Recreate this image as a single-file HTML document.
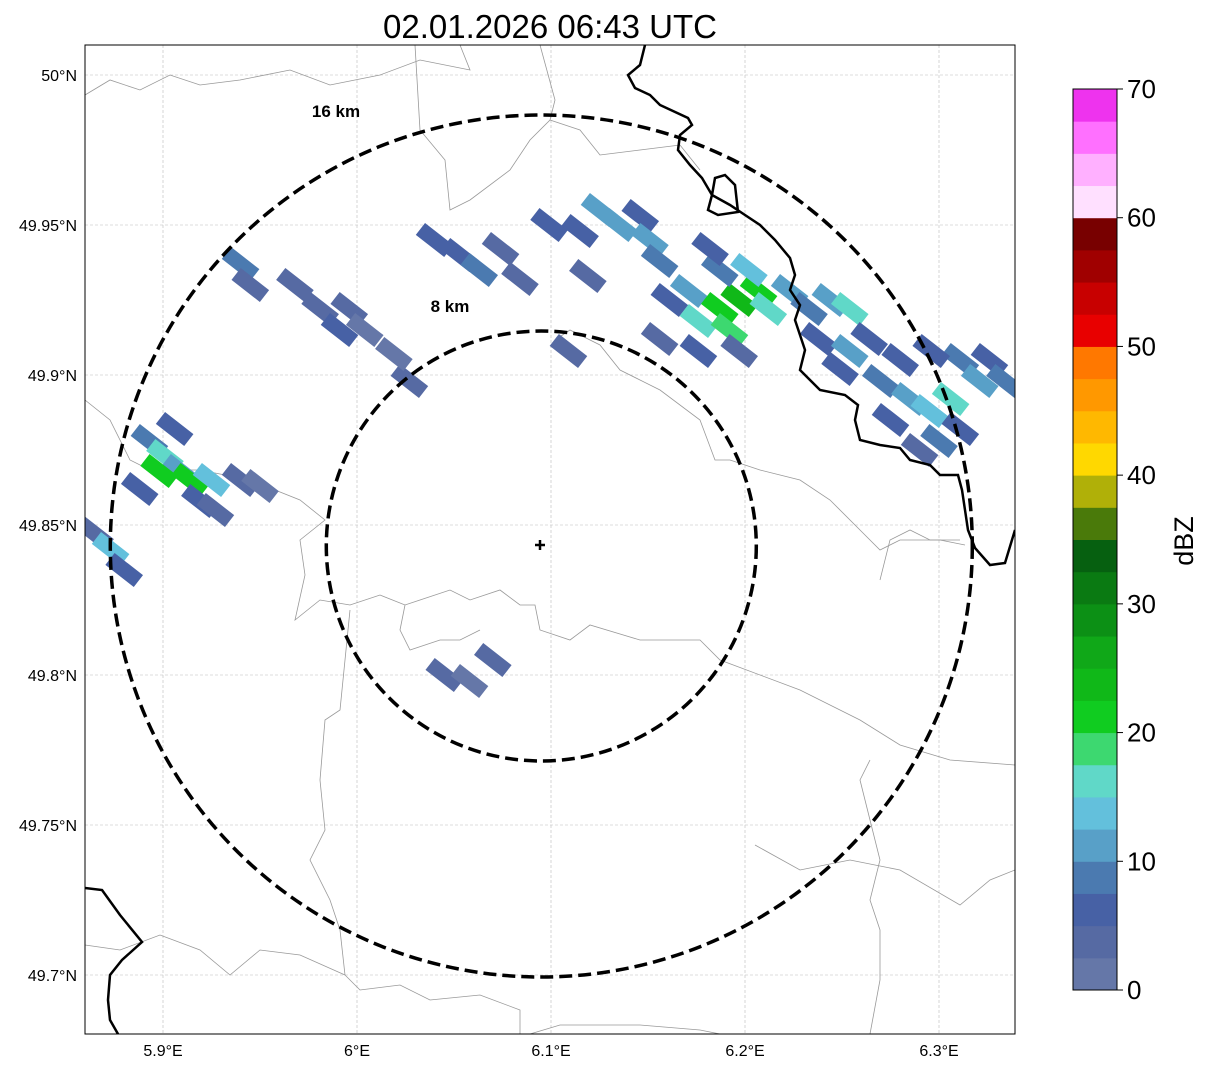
<!DOCTYPE html>
<html><head><meta charset="utf-8"><style>
body{margin:0;background:#fff;font-family:"Liberation Sans","DejaVu Sans",sans-serif}
svg text{font-family:"Liberation Sans","DejaVu Sans",sans-serif}
</style></head><body>
<svg id="chart" width="1207" height="1069" xmlns="http://www.w3.org/2000/svg">
<text x="550" y="38" font-size="33" text-anchor="middle">02.01.2026 06:43 UTC</text>
<defs><clipPath id="clip"><rect x="85" y="45" width="930" height="989"/></clipPath></defs>
<g id="grid"></g>
<g clip-path="url(#clip)">
<g fill="none" stroke="#999" stroke-width="0.8">
<polyline points="85,95 110,80 140,90 170,75 200,85 240,80 290,70 330,85 380,75 420,60 470,70 460,45"/>
<polyline points="85,400 110,420 130,460 150,470 200,470 250,480 275,490 300,500 325,520 300,540 305,575 295,620 320,600 350,605 380,595 405,605 420,600 450,590 470,600 500,590 520,605 535,605 540,630 570,640 590,625 640,640 700,640 720,660 800,690 860,720 900,745 950,760 1015,765"/>
<polyline points="415,45 420,130 445,160 450,210 470,200 510,170 530,140 550,120 555,100 540,45"/>
<polyline points="550,120 580,130 600,155 640,150 680,145 700,170"/>
<polyline points="405,605 400,630 410,650 440,640 460,640 480,630"/>
<polyline points="350,610 345,660 340,710 325,720 320,780 325,830 310,860 330,900 340,930 345,975 360,990 400,985 430,1000 480,995 520,1010 520,1034"/>
<polyline points="85,945 120,950 160,935 200,950 230,975 260,950 300,955 345,975"/>
<polyline points="530,1034 560,1025 640,1025 700,1030 720,1034"/>
<polyline points="555,340 570,330 600,345 620,370 640,380 660,390 700,420 715,460 730,460 760,470 800,480 830,500 860,530 880,550 900,540 940,540 965,545"/>
<polyline points="755,845 800,870 850,860 900,870 960,905 990,880 1015,870"/>
<polyline points="870,1034 880,980 880,930 870,900 880,860 870,820 860,780 870,760"/>
<polyline points="880,580 890,540 910,530 930,540 960,540"/>
</g>
<g id="echoes"></g>
<g fill="none" stroke="#000" stroke-width="2.5">
<polyline points="645,45 640,65 628,75 635,88 650,95 660,105 688,118 692,125 680,135 678,150 690,165 702,178 712,195 708,210 718,215 738,212 735,185 725,175 715,178 712,195"/>
<polyline points="712,195 730,205 745,215 760,225 775,240 790,258 795,275 790,290 800,305 795,320 800,335 805,350 800,370 820,390 845,395 858,405 855,420 860,440 880,445 900,448 910,460 930,465 940,475 958,475 962,490 965,510 968,530 975,548 990,565 1005,563 1015,530"/>
<polyline points="85,888 102,890 120,915 142,942 122,960 110,975 108,1000 110,1020 118,1034"/>
</g>
<g id="rings"></g>
</g>
<rect x="85" y="45" width="930" height="989" fill="none" stroke="#000" stroke-width="1"/>
<text x="336" y="117" font-size="17" font-weight="bold" text-anchor="middle">16 km</text>
<text x="450" y="312" font-size="17" font-weight="bold" text-anchor="middle">8 km</text>
<g stroke="#000" stroke-width="2.5"><line x1="535" y1="545" x2="545" y2="545"/><line x1="540" y1="540" x2="540" y2="550"/></g>
<g id="axes"></g>
<g id="cbar"></g>
<text x="0" y="0" font-size="27" text-anchor="middle" transform="translate(1193,541) rotate(-90)">dBZ</text>
</svg>
<script>
const lonTicks=[5.9,6.0,6.1,6.2,6.3];
const lonLabels=["5.9°E","6°E","6.1°E","6.2°E","6.3°E"];
const latTicks=[50.0,49.95,49.9,49.85,49.8,49.75,49.7];
const latLabels=["50°N","49.95°N","49.9°N","49.85°N","49.8°N","49.75°N","49.7°N"];
const cbTicks=[0,10,20,30,40,50,60,70];
const cbColors=["#6577a8","#566aa3","#4761a5","#4b7ab0","#58a0c8","#63c0dc","#60d8c8","#3dd870","#10cc20","#10b818","#10a818","#0c9015","#0a7a12","#066010","#4a7a0a","#b0b008","#ffd800","#ffb800","#ff9800","#ff7800","#e80000","#c80000","#a00000","#780000","#ffe0ff","#ffb0ff","#ff70ff","#ee33ee"];
const ringKm=[16,8];
const ringRadiusPx=[431,215];
const radarLon=6.095, radarLat=49.843;
const cellLon=[5.893,5.901,5.909,5.898,5.914,5.919,5.927,5.888,5.906,5.940,5.950,5.925,5.865,5.873,5.880,5.940,5.945,5.968,5.981,5.996,6.004,5.991,6.027,6.019,6.040,6.053,6.063,6.074,6.084,6.099,6.115,6.125,6.135,6.146,6.151,6.119,6.109,6.156,6.161,6.156,6.171,6.176,6.187,6.197,6.207,6.192,6.202,6.212,6.187,6.182,6.176,6.197,6.223,6.233,6.244,6.254,6.238,6.254,6.264,6.249,6.270,6.280,6.285,6.295,6.306,6.300,6.311,6.275,6.290,6.311,6.326,6.334,6.321,6.296,6.045,6.058,6.070];
const cellLat=[49.878,49.873,49.868,49.868,49.865,49.858,49.855,49.862,49.882,49.865,49.863,49.865,49.847,49.842,49.835,49.937,49.930,49.930,49.922,49.922,49.915,49.915,49.898,49.907,49.945,49.940,49.935,49.942,49.932,49.950,49.948,49.955,49.950,49.953,49.945,49.933,49.908,49.938,49.925,49.912,49.928,49.918,49.922,49.925,49.928,49.915,49.935,49.922,49.935,49.942,49.908,49.908,49.928,49.922,49.925,49.922,49.912,49.908,49.912,49.902,49.898,49.905,49.892,49.888,49.892,49.878,49.882,49.885,49.875,49.905,49.905,49.898,49.898,49.908,49.800,49.798,49.805];
const cellDbz=[8,15,12,21,20,6,4,6,5,3,2,14,4,13,5,8,3,3,4,4,2,5,3,2,6,5,8,4,3,5,7,11,10,6,10,3,3,9,5,4,12,16,22,23,20,18,14,17,9,7,5,4,10,8,12,17,6,10,6,5,8,7,10,14,15,9,6,5,4,8,7,9,11,6,3,2,4];

const X0=163,XS=1940,Y0=75,YS=3000;
const xOf=lon=>X0+(lon-5.9)*XS;
const yOf=lat=>Y0+(50-lat)*YS;
const NS="http://www.w3.org/2000/svg";
function mk(tag,attrs,parent){const e=document.createElementNS(NS,tag);for(const k in attrs)e.setAttribute(k,attrs[k]);parent.appendChild(e);return e;}
const grid=document.getElementById('grid'),axes=document.getElementById('axes');
lonTicks.forEach((t,i)=>{const x=xOf(t);
 const l=mk('line',{x1:x,y1:45,x2:x,y2:1034,stroke:'#bbb','stroke-width':0.6,'stroke-dasharray':'3,2'},grid);
 
 
 const tx=mk('text',{x:x,y:1056,'font-size':16,'text-anchor':'middle'},axes);tx.textContent=lonLabels[i];
 
 });
latTicks.forEach((t,i)=>{const y=yOf(t);
 const l=mk('line',{x1:85,y1:y,x2:1015,y2:y,stroke:'#bbb','stroke-width':0.6,'stroke-dasharray':'3,2'},grid);
 
 
 const tx=mk('text',{x:77,y:y+6,'font-size':16,'text-anchor':'end'},axes);tx.textContent=latLabels[i];
 
 });
const echoes=document.getElementById('echoes');
function colorOf(v){return cbColors[Math.max(0,Math.min(27,Math.floor(v/2.5)))];}
cellLon.forEach((lo,i)=>{const x=xOf(lo),y=yOf(cellLat[i]);
 const r=mk('rect',{x:x-18,y:y-7.5,width:36,height:15,fill:colorOf(cellDbz[i]),transform:`rotate(38 ${x} ${y})`},echoes);
 
 });
const rings=document.getElementById('rings');
ringKm.forEach((k,i)=>{const c=mk('circle',{cx:xOf(radarLon),cy:yOf(radarLat),r:ringRadiusPx[i],fill:'none',stroke:'#000','stroke-width':3.5,'stroke-dasharray':'13,6'},rings);
 
 });
const cb=document.getElementById('cbar');
const CB0=990,CB1=89,cbY=v=>CB0-(v/70)*(CB0-CB1);
cbColors.forEach((c,i)=>{const y1=cbY((i+1)*2.5),y0=cbY(i*2.5);
 const r=mk('rect',{x:1073,y:y1,width:44,height:y0-y1+0.5,fill:c},cb);
 
 });
mk('rect',{x:1073,y:CB1,width:44,height:CB0-CB1,fill:'none',stroke:'#000','stroke-width':1},cb);
cbTicks.forEach(t=>{const y=cbY(t);
 mk('line',{x1:1117,y1:y,x2:1123,y2:y,stroke:'#000'},cb);
 const tx=mk('text',{x:1127,y:y+9,'font-size':26},cb);tx.textContent=t;
 
 });
</script>
</body></html>
